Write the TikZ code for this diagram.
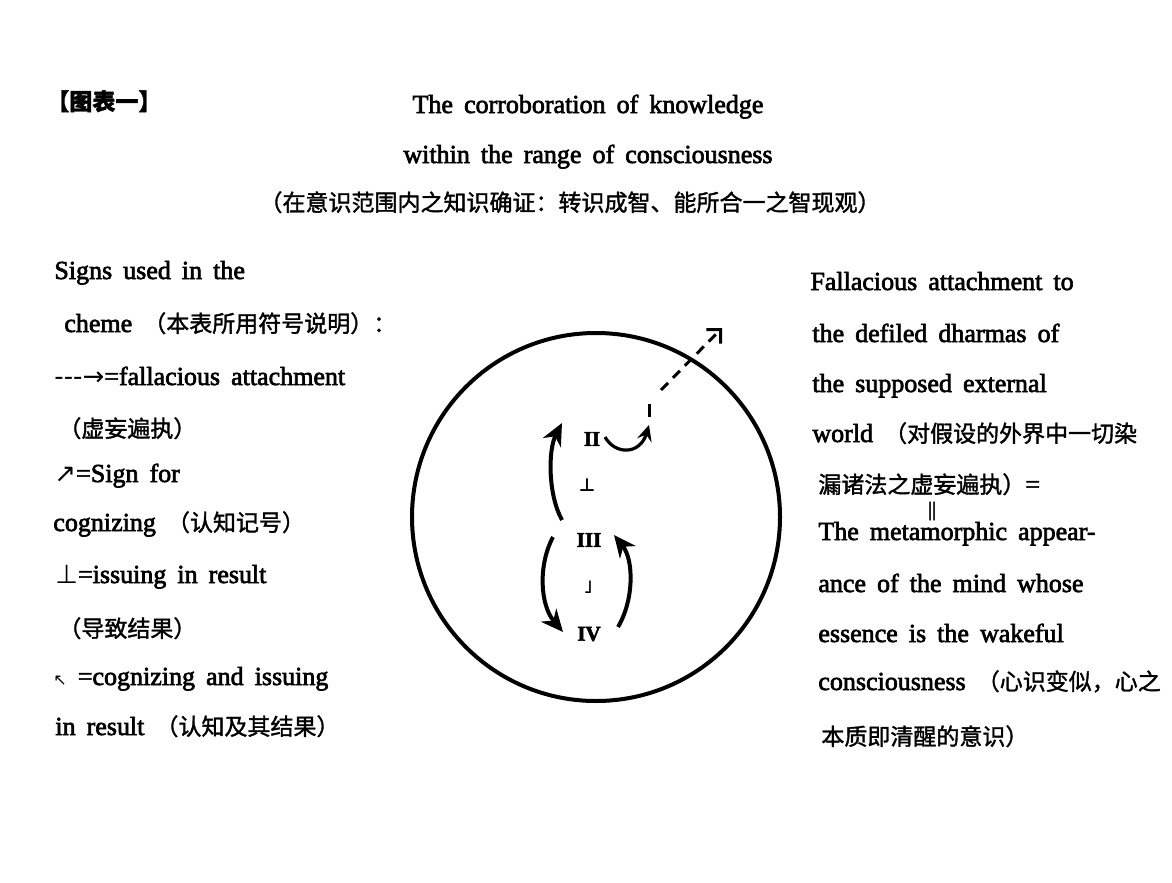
\documentclass[tikz,border=0pt]{standalone}
\usepackage{fontspec}
\setmainfont{Liberation Serif}[WordSpace=1.7, RawFeature={embolden=2.5}]
\newfontfamily\cjkfont{Noto Sans CJK SC}[RawFeature={embolden=1.5}]
\newfontfamily\symfont{DejaVu Sans}
\usetikzlibrary{arrows.meta}
\newcommand{\zh}[1]{{\cjkfont\fontsize{11.5}{14}\selectfont #1}}
\newcommand{\sym}[1]{{\symfont #1}}

\begin{document}
\begin{tikzpicture}[
    x=0.5pt, y=-0.5pt,
    txt/.style={anchor=base west, inner sep=0pt, font=\fontsize{13}{15}\selectfont},
    ttl/.style={anchor=base, inner sep=0pt, font=\fontsize{13}{15}\selectfont},
    num/.style={inner sep=0pt, font=\bfseries\fontsize{10.5}{12}\selectfont},
    rim/.style={line width=2pt},
    cog/.style={line width=2pt, -{Stealth[length=11pt, width=10pt, inset=3.5pt]}},
    cogsmall/.style={line width=1.6pt, -{Stealth[length=8pt, width=7.5pt, inset=3pt]}},
    fal/.style={line width=1.5pt, dash pattern=on 5pt off 3.5pt,
                -{Straight Barb[length=5pt, width=10pt]}},
]
    \useasboundingbox (0,0) rectangle (1172,883);

    % heading
    \node[txt] (tag) at (46,110) {{\cjkfont\bfseries\fontsize{11.5}{14}\selectfont 【图表一】}};
    \node[ttl] (title1) at (588,113) {The corroboration of knowledge};
    \node[ttl] (title2) at (588,163) {within the range of consciousness};
    \node[ttl] (title3) at (570,211) {\zh{（在意识范围内之知识确证：转识成智、能所合一之智现观）}};

    % key of signs
    \node[txt] (key1) at (54,279) {Signs used in the};
    \node[txt] (key2) at (64,332) {cheme \zh{（本表所用符号说明）：}};
    \node[txt] (key3) at (54,385) {\sym{-{}-{}-→}=fallacious attachment};
    \node[txt] (key4) at (58,437) {\zh{（虚妄遍执）}};
    \node[txt] (key5) at (54,482) {\sym{↗}=Sign for};
    \node[txt] (key6) at (53,531) {cognizing \zh{（认知记号）}};
    \node[txt] (key7) at (55,583) {\sym{⊥}=issuing in result};
    \node[txt] (key8) at (58,637) {\zh{（导致结果）}};
    \node[txt] (key9) at (53,685) {{\symfont\fontsize{8}{10}\selectfont ↖} =cognizing and issuing};
    \node[txt] (key10) at (55,735) {in result \zh{（认知及其结果）}};

    % right-hand note
    \node[txt] (note1) at (810,290) {Fallacious attachment to};
    \node[txt] (note2) at (812,342) {the defiled dharmas of};
    \node[txt] (note3) at (812,392) {the supposed external};
    \node[txt] (note4) at (812,442) {world \zh{（对假设的外界中一切染}};
    \node[txt] (note5) at (818,493) {\zh{漏诸法之虚妄遍执）}=};
    \node[inner sep=0pt, font=\fontsize{10}{11}\selectfont] (eqv) at (932,511) {||};
    \node[txt] (note6) at (818,540) {The metamorphic appear-};
    \node[txt] (note7) at (818,592) {ance of the mind whose};
    \node[txt] (note8) at (818,642) {essence is the wakeful};
    \node[txt] (note9) at (818,690) {consciousness \zh{（心识变似，心之}};
    \node[txt] (note10) at (821,745) {\zh{本质即清醒的意识）}};

    % range of consciousness
    \draw[rim] (596,517) circle (184);

    \node[num] (two) at (592,439) {II};
    \node[num] (res1) at (587,485) {\sym{\fontsize{9}{10}\selectfont ⊥}};
    \node[num] (three) at (589,540) {III};
    \node[num] (res2) at (588,587) {\sym{\fontsize{9}{10}\selectfont ˩}};
    \node[num] (four) at (589,634) {IV};

    \coordinate (upA) at (562,520);
    \coordinate (upB) at (562,423);
    \coordinate (dnA) at (553,537);
    \coordinate (dnB) at (563,632);
    \coordinate (rtA) at (618,627);
    \coordinate (rtB) at (614,535);
    \coordinate (smA) at (605,437);
    \coordinate (smB) at (649,425);
    \coordinate (tickA) at (649,404);
    \coordinate (tickB) at (649,417);
    \coordinate (outA) at (661,390);
    \coordinate (outB) at (722,328);

    \draw[cog] (upA) .. controls (548,495) and (548,450) .. (upB);
    \draw[cog] (dnA) .. controls (538,565) and (540,605) .. (dnB);
    \draw[cog] (rtA) .. controls (634,600) and (634,560) .. (rtB);
    \draw[cogsmall] (smA) .. controls (615,455) and (640,455) .. (smB);
    \draw[line width=1.5pt] (tickA) -- (tickB);
    \draw[fal] (outA) -- (outB);
\end{tikzpicture}
\end{document}
